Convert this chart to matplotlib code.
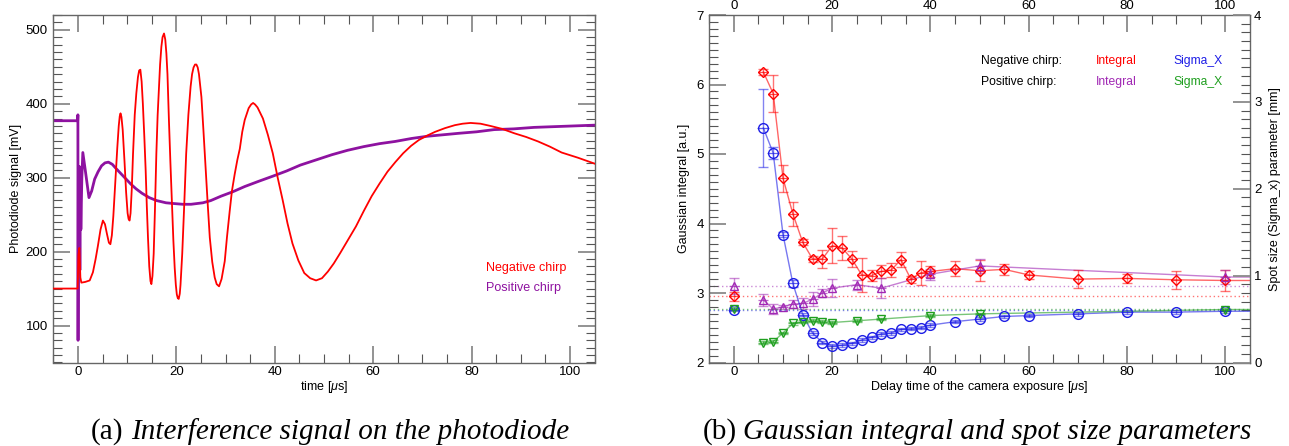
import matplotlib
matplotlib.use("Agg")
import matplotlib.pyplot as plt
from matplotlib.ticker import MultipleLocator

plt.rcParams['font.family'] = ['Liberation Sans', 'DejaVu Sans']
plt.rcParams['mathtext.fontset'] = 'custom'
plt.rcParams['mathtext.it'] = 'Liberation Sans:italic'
plt.rcParams['mathtext.rm'] = 'Liberation Sans'

# ---------------- (a) photodiode traces: time [us], signal [mV] ----------------
neg_time = [-5, -0.05, 0.1, 0.3, 0.5, 0.7, 1.5, 2.4, 3.05, 3.6, 4.07, 4.6, 5.08, 5.5,
            5.9, 6.3, 6.6, 6.9, 7.2, 7.5, 7.8, 8.0, 8.3, 8.5, 8.66, 8.85, 9.1, 9.47,
            9.8, 10.1, 10.3, 10.5, 10.7, 10.95, 11.2, 11.55, 11.87, 12.2, 12.45, 12.69,
            12.95, 13.2, 13.5, 13.77, 14.0, 14.24, 14.5, 14.75, 14.93, 15.15, 15.4,
            15.65, 15.94, 16.2, 16.48, 16.7, 16.96, 17.2, 17.5, 17.75, 17.98, 18.2,
            18.5, 18.8, 19.12, 19.4, 19.67, 19.9, 20.1, 20.3, 20.48, 20.7, 20.85, 21.0,
            21.2, 21.6, 22.0, 22.45, 22.9, 23.2, 23.5, 23.8, 24.08, 24.35, 24.6, 25.1,
            25.5, 25.97, 26.4, 26.8, 27.3, 27.8, 28.2, 28.68, 29.2, 29.84, 30.3, 30.85,
            31.3, 31.87, 32.4, 32.9, 33.4, 33.9, 34.7, 35.2, 35.6, 36.0, 36.5, 37.6,
            38.6, 39.6, 40.6, 41.6, 42.6, 43.6, 44.8, 46.0, 47.2, 48.4, 49.6, 50.8,
            52.0, 53.3, 54.9, 56.5, 58.1, 59.7, 61.3, 62.9, 64.5, 66.1, 67.7, 69.3,
            71.0, 72.6, 74.6, 76.6, 78.2, 79.8, 81.8, 83.8, 86.2, 88.7, 91.1, 93.5,
            95.9, 98.3, 101.6, 105]
neg_signal = [150, 150, 195, 205, 165, 158, 159, 161, 172, 190, 208, 230, 242, 237,
              224, 212, 210, 222, 248, 282, 316, 340, 370, 383, 387, 382, 365, 322,
              280, 252, 244, 242, 252, 285, 332, 385, 414, 436, 445, 446,
              430, 400, 355, 310, 262, 219, 180, 160, 156, 167, 197,
              255, 332, 384, 423, 453, 477, 490, 495, 487, 468, 440,
              377, 320, 264, 215, 178, 155, 142, 137, 136, 143, 155, 173,
              197, 262, 332, 385, 423, 440, 449, 453, 453, 449, 440, 409,
              365, 310, 262, 219, 186, 165, 156, 153, 163, 187, 220, 255,
              282, 305, 324, 339, 362, 378, 394, 399, 401, 399, 395, 380,
              358, 333, 300, 270, 238, 211, 188, 171, 164, 161, 164, 173,
              184, 198, 216, 234, 255, 275, 292, 308, 321, 333, 343, 351,
              357, 362, 367, 371, 373, 374, 373, 370, 366, 360, 355, 349,
              342, 334, 327, 319]

pos_time = [-5, -0.05, 0.0, 0.03, 0.1, 0.2, 0.3, 0.4, 0.5, 0.6, 0.8, 1.0, 1.5, 2.25,
            2.8, 3.4, 4.1, 4.8, 5.5, 6.2, 7.0, 7.8, 8.8, 9.8, 10.8, 11.8, 13.0, 14.5,
            16.0, 17.9, 19.5, 21.3, 23.0, 25.4, 27.0, 29.1, 31.5, 33.9, 36.7, 39.6,
            42.4, 45.2, 48.4, 51.6, 54.8, 58.1, 61.3, 64.5, 67.8, 71.0, 74.2, 77.4,
            81.0, 84.6, 88.6, 92.7, 96.8, 100.9, 105]
pos_signal = [377, 377, 385, 80, 314, 170, 315, 175, 300, 230, 300, 334, 310, 273,
              282, 298, 308, 316, 320, 321, 318, 312, 305, 298, 291, 285, 279, 273,
              269, 266, 265, 264, 264, 266, 269, 275, 281, 288, 295, 302,
              309, 317, 324, 331, 337, 342, 346, 349, 353, 356, 358, 360,
              362, 365, 366, 368, 369, 370, 371]

# ---------------- (b) camera delay scan ----------------
neg_delay = [0, 6, 8, 10, 12, 14, 16, 18, 20, 22, 24, 26, 28, 30, 32, 34, 36, 38, 40,
             45, 50, 55, 60, 70, 80, 90, 100]
neg_integral = [2.95, 6.18, 5.87, 4.65, 4.14, 3.73, 3.49, 3.49, 3.68, 3.65, 3.49, 3.26,
                3.25, 3.31, 3.33, 3.48, 3.20, 3.29, 3.31, 3.35, 3.32, 3.34, 3.26, 3.20,
                3.21, 3.19, 3.18]
neg_integral_err = [0.07, 0.05, 0.26, 0.19, 0.17, 0.04, 0.04, 0.13, 0.25, 0.17, 0.12,
                    0.25, 0.08, 0.09, 0.10, 0.11, 0.05, 0.17, 0.08, 0.11, 0.15, 0.08,
                    0.06, 0.13, 0.07, 0.13, 0.15]
neg_sigma = [0.61, 2.70, 2.41, 1.47, 0.91, 0.55, 0.34, 0.23, 0.19, 0.20, 0.22, 0.26,
             0.29, 0.33, 0.34, 0.38, 0.39, 0.40, 0.43, 0.47, 0.50, 0.53, 0.54, 0.56,
             0.58, 0.58, 0.59]
neg_sigma_err = [0.02, 0.45, 0.07, 0.03, 0.04, 0.02, 0.02, 0.02, 0.02, 0.02, 0.02, 0.02,
                 0.02, 0.02, 0.02, 0.02, 0.02, 0.02, 0.02, 0.02, 0.02, 0.02, 0.02, 0.02,
                 0.02, 0.02, 0.02]

pos_delay = [0, 6, 8, 10, 12, 14, 16, 18, 20, 25, 30, 40, 50, 100]
pos_integral = [3.10, 2.90, 2.77, 2.80, 2.84, 2.85, 2.91, 3.00, 3.07, 3.12, 3.07, 3.27,
                3.39, 3.23]
pos_integral_err = [0.12, 0.09, 0.07, 0.03, 0.06, 0.08, 0.10, 0.06, 0.13, 0.07, 0.14,
                    0.08, 0.10, 0.10]
pos_sigma = [0.62, 0.23, 0.24, 0.34, 0.45, 0.47, 0.48, 0.47, 0.46, 0.48, 0.50, 0.54,
             0.56, 0.61]
pos_sigma_err = [0.015] * len(pos_delay)

RED = '#ff0000'
PURPLE_TRACE = '#8e12a0'
PURPLE = '#a128b4'
BLUE = '#1e1ee6'
GREEN = '#1f9f1f'

W, H = 1289, 446
fig = plt.figure(figsize=(W / 100, H / 100), dpi=100)
fig.patch.set_facecolor('white')

TICK_FS = 9.5
LABEL_FS = 9


def frac_box(x0, x1, ytop, ybot):
    return [x0 / W, 1 - ybot / H, (x1 - x0) / W, (ybot - ytop) / H]


def style_axes(ax, xmaj, xmin, ymaj, ymin, right=True):
    ax.xaxis.set_major_locator(MultipleLocator(xmaj))
    ax.xaxis.set_minor_locator(MultipleLocator(xmin))
    ax.yaxis.set_major_locator(MultipleLocator(ymaj))
    ax.yaxis.set_minor_locator(MultipleLocator(ymin))
    ax.tick_params(which='both', direction='in', top=True, right=right,
                   labelsize=TICK_FS, labelcolor='black')
    ax.tick_params(which='major', length=12, width=1.3, color='#8a8a8a')
    ax.tick_params(which='minor', length=6.5, width=0.8, color='#555555')
    ax.tick_params(axis='x', which='major', pad=2.5)
    ax.tick_params(axis='y', which='major', pad=4.0)
    for s in ax.spines.values():
        s.set_color('#666666')
        s.set_linewidth(1.0)


# ---------------- panel (a) ----------------
axA = fig.add_axes(frac_box(53.3, 594.6, 15, 362.5))
axA.plot(neg_time, neg_signal, color=RED, lw=1.3, zorder=3)
axA.plot(pos_time, pos_signal, color=PURPLE_TRACE, lw=2.0, zorder=2)
axA.set_xlim(-5, 105)
axA.set_ylim(50, 520)
style_axes(axA, 20, 5, 100, 10)
axA.set_xlabel(r'time [$\mu$s]', fontsize=LABEL_FS, labelpad=1)
axA.set_ylabel('Photodiode signal [mV]', fontsize=LABEL_FS)
axA.yaxis.set_label_coords(-0.058, 0.5)
axA.text(0.8, 0.273, 'Negative chirp', color=RED, fontsize=9,
         transform=axA.transAxes, va='center')
axA.text(0.8, 0.214, 'Positive chirp', color=PURPLE_TRACE, fontsize=9,
         transform=axA.transAxes, va='center')

# ---------------- panel (b) ----------------
axB = fig.add_axes(frac_box(709.3, 1250.0, 15, 362.5))
axB.set_xlim(-5, 105)
axB.set_ylim(2, 7)
axR = axB.twinx()
axR.set_ylim(0, 4)
style_axes(axB, 20, 5, 1, 0.1, right=False)
axB.tick_params(labeltop=True)
axR.yaxis.set_major_locator(MultipleLocator(1))
axR.yaxis.set_minor_locator(MultipleLocator(0.1))
axR.tick_params(which='both', direction='in', left=False, right=True,
                labelsize=TICK_FS, labelcolor='black', pad=3)
axR.tick_params(which='major', length=12, width=1.3, color='#8a8a8a')
axR.tick_params(which='minor', length=6.5, width=0.8, color='#555555')
for s in axR.spines.values():
    s.set_visible(False)

xmax = axB.get_xlim()[1]


def draw_series(ax, x, y, yerr, color, marker, ms):
    # reference level at zero delay
    ax.axhline(y[0], color=color, ls=(0, (1, 2)), lw=1.0, alpha=0.55, zorder=1)
    # connecting line for the scan (delay > 0), carried on to the frame edge
    ax.plot(list(x[1:]) + [xmax], list(y[1:]) + [y[-1]], color=color, lw=1.0,
            alpha=0.6, zorder=2)
    ax.errorbar(x, y, yerr=yerr, fmt='none', ecolor=color, elinewidth=1.0,
                capsize=3.5, capthick=1.0, alpha=0.55, zorder=3)
    ax.plot(x, y, ls='none', marker=marker, ms=ms, mfc='none', mec=color,
            mew=1.0, zorder=4)
    ax.plot(x, y, ls='none', marker='_', ms=ms + 1.5, mec=color, mew=0.9,
            alpha=0.7, zorder=4)


draw_series(axB, neg_delay, neg_integral, neg_integral_err, RED, 'D', 5.2)
draw_series(axB, pos_delay, pos_integral, pos_integral_err, PURPLE, '^', 6.0)
draw_series(axR, neg_delay, neg_sigma, neg_sigma_err, BLUE, 'o', 7.0)
draw_series(axR, pos_delay, pos_sigma, pos_sigma_err, GREEN, 'v', 6.0)

axB.set_xlabel(r'Delay time of the camera exposure [$\mu$s]', fontsize=LABEL_FS,
               labelpad=1)
axB.set_ylabel('Gaussian integral [a.u.]', fontsize=LABEL_FS)
axB.yaxis.set_label_coords(-0.035, 0.5)
axR.set_ylabel('Spot size (Sigma_x) parameter [mm]', fontsize=LABEL_FS)
axR.yaxis.set_label_coords(1.036, 0.5)

for txt, col, x, y in [('Negative chirp:', 'black', 0.502, 0.868),
                       ('Integral', RED, 0.715, 0.868),
                       ('Sigma_X', BLUE, 0.858, 0.868),
                       ('Positive chirp:', 'black', 0.502, 0.808),
                       ('Integral', PURPLE, 0.715, 0.808),
                       ('Sigma_X', GREEN, 0.858, 0.808)]:
    axB.text(x, y, txt, color=col, fontsize=8.7, transform=axB.transAxes,
             va='center', ha='left', zorder=6)

# ---------------- captions ----------------
renderer = fig.canvas.get_renderer()
CAP_FS = 21


def caption(xc, tag, body):
    y = 1 - 439 / H
    t1 = fig.text(0, y, tag, fontfamily='Liberation Serif', fontsize=CAP_FS,
                  va='baseline', ha='left')
    t2 = fig.text(0, y, body, fontfamily='Liberation Serif', fontstyle='italic',
                  fontsize=CAP_FS, va='baseline', ha='left')
    w1 = t1.get_window_extent(renderer).width
    w2 = t2.get_window_extent(renderer).width
    gap = 7
    x0 = xc - (w1 + gap + w2) / 2
    t1.set_x(x0 / W)
    t2.set_x((x0 + w1 + gap) / W)


caption(330, '(a)', 'Interference signal on the photodiode')
caption(977, '(b)', 'Gaussian integral and spot size parameters')

fig.savefig('out.png', dpi=100, facecolor='white')
